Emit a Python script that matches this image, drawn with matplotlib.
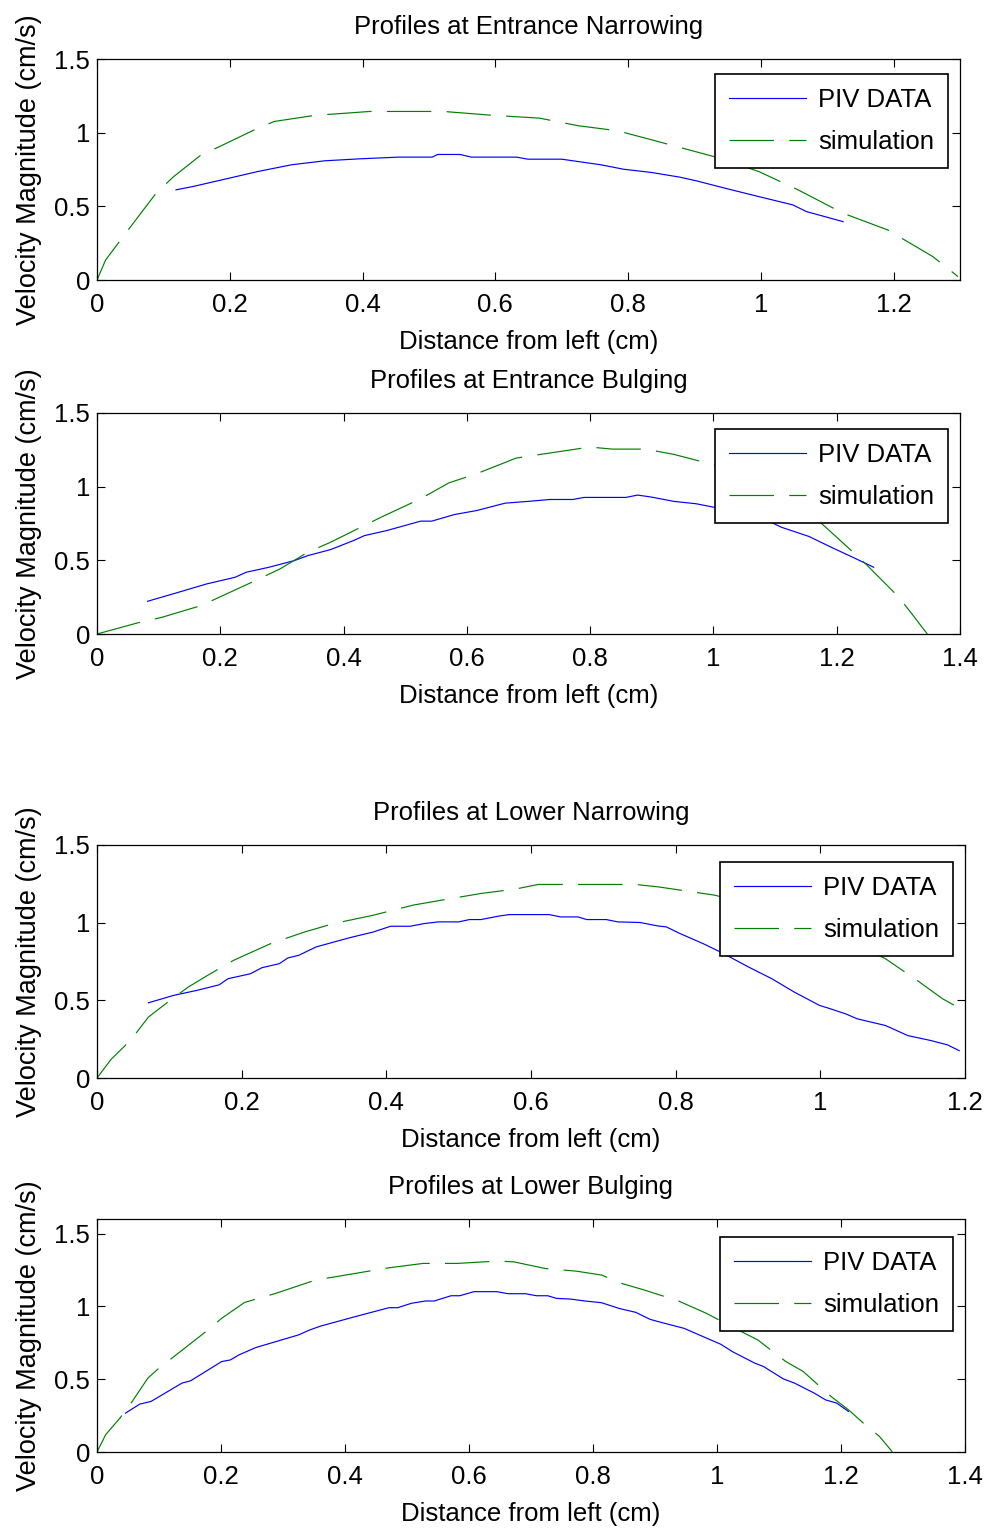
# velocity profiles: PIV vs simulation
import matplotlib
matplotlib.use("Agg")
import matplotlib.pyplot as plt

plt.rcParams['font.family'] = ['Liberation Sans', 'DejaVu Sans']
plt.rcParams['lines.scale_dashes'] = False

# --- data ---
# Entrance Narrowing
en_piv_x = [0.119, 0.144, 0.199, 0.242, 0.293, 0.343, 0.394, 0.454, 0.505, 0.513, 0.547,
            0.564, 0.632, 0.649, 0.700, 0.725, 0.759, 0.793, 0.835, 0.878, 0.903, 0.946,
            0.997, 1.048, 1.069, 1.124]
en_piv_y = [0.612, 0.634, 0.691, 0.736, 0.782, 0.809, 0.822, 0.834, 0.834, 0.852, 0.852,
            0.834, 0.834, 0.820, 0.820, 0.804, 0.782, 0.752, 0.730, 0.698, 0.673, 0.623,
            0.566, 0.510, 0.464, 0.396]
en_sim_x = [0.0, 0.013, 0.047, 0.089, 0.115, 0.157, 0.182, 0.242, 0.267, 0.327, 0.411,
            0.522, 0.598, 0.666, 0.725, 0.784, 0.835, 0.929, 0.997, 1.056, 1.124, 1.191,
            1.259, 1.297]
en_sim_y = [0.0, 0.136, 0.34, 0.589, 0.70, 0.85, 0.90, 1.03, 1.076, 1.117, 1.144,
            1.144, 1.117, 1.099, 1.047, 1.013, 0.952, 0.838, 0.736, 0.612, 0.453, 0.34,
            0.159, 0.023]

# Entrance Bulging
eb_piv_x = [0.082, 0.132, 0.178, 0.224, 0.242, 0.279, 0.320, 0.342, 0.379, 0.416, 0.434,
            0.470, 0.525, 0.543, 0.580, 0.616, 0.662, 0.699, 0.735, 0.772, 0.790, 0.858,
            0.877, 0.900, 0.936, 0.972, 1.000, 1.040, 1.082, 1.110, 1.155, 1.191, 1.228,
            1.260]
eb_piv_y = [0.222, 0.283, 0.340, 0.385, 0.419, 0.453, 0.498, 0.532, 0.573, 0.634, 0.668,
            0.702, 0.766, 0.766, 0.811, 0.838, 0.888, 0.900, 0.913, 0.913, 0.927, 0.927,
            0.943, 0.929, 0.900, 0.884, 0.861, 0.830, 0.782, 0.725, 0.662, 0.589, 0.517,
            0.453]
eb_sim_x = [0.0, 0.069, 0.105, 0.169, 0.251, 0.297, 0.342, 0.379, 0.461, 0.525, 0.571,
            0.616, 0.680, 0.708, 0.763, 0.799, 0.836, 0.890, 0.936, 1.000, 1.050, 1.100,
            1.164, 1.200, 1.247, 1.301, 1.320, 1.347]
eb_sim_y = [0.0, 0.079, 0.113, 0.193, 0.351, 0.442, 0.555, 0.623, 0.793, 0.918, 1.026,
            1.088, 1.194, 1.212, 1.246, 1.269, 1.255, 1.255, 1.219, 1.149, 1.070, 0.960,
            0.793, 0.657, 0.476, 0.249, 0.147, 0.0]

# Lower Narrowing
ln_piv_x = [0.071, 0.106, 0.138, 0.169, 0.181, 0.212, 0.228, 0.252, 0.264, 0.279, 0.303,
            0.350, 0.382, 0.406, 0.433, 0.452, 0.472, 0.500, 0.515, 0.531, 0.555, 0.570,
            0.625, 0.641, 0.665, 0.677, 0.704, 0.720, 0.751, 0.775, 0.787, 0.806, 0.838,
            0.862, 0.901, 0.933, 0.964, 0.999, 1.011, 1.035, 1.051, 1.090, 1.121, 1.153,
            1.176, 1.192]
ln_piv_y = [0.484, 0.532, 0.564, 0.600, 0.639, 0.671, 0.710, 0.736, 0.773, 0.790, 0.844,
            0.904, 0.940, 0.977, 0.977, 0.994, 1.005, 1.005, 1.020, 1.020, 1.042, 1.052,
            1.052, 1.037, 1.037, 1.020, 1.020, 1.005, 1.001, 0.979, 0.973, 0.930, 0.865,
            0.811, 0.714, 0.639, 0.553, 0.467, 0.450, 0.413, 0.381, 0.338, 0.273, 0.241,
            0.213, 0.176]
ln_sim_x = [0.0, 0.020, 0.039, 0.055, 0.071, 0.098, 0.126, 0.153, 0.189, 0.240, 0.287,
            0.327, 0.382, 0.437, 0.484, 0.531, 0.578, 0.610, 0.744, 0.775, 0.822, 0.854,
            0.920, 0.980, 1.040, 1.090, 1.137, 1.169, 1.200]
ln_sim_y = [0.0, 0.123, 0.209, 0.295, 0.392, 0.489, 0.585, 0.661, 0.758, 0.865, 0.940,
            0.994, 1.048, 1.113, 1.151, 1.188, 1.216, 1.246, 1.246, 1.231, 1.199, 1.177,
            1.100, 0.990, 0.880, 0.768, 0.618, 0.510, 0.430]

# Lower Bulging
lb_piv_x = [0.046, 0.069, 0.087, 0.137, 0.151, 0.201, 0.215, 0.229, 0.256, 0.325, 0.343,
            0.361, 0.416, 0.471, 0.485, 0.507, 0.530, 0.544, 0.571, 0.585, 0.608, 0.645,
            0.663, 0.691, 0.709, 0.727, 0.741, 0.764, 0.787, 0.814, 0.842, 0.869, 0.892,
            0.910, 0.947, 0.974, 1.006, 1.025, 1.061, 1.075, 1.107, 1.125, 1.157, 1.175,
            1.193, 1.212]
lb_piv_y = [0.267, 0.329, 0.347, 0.473, 0.489, 0.621, 0.632, 0.667, 0.717, 0.804, 0.838,
            0.865, 0.929, 0.991, 0.991, 1.021, 1.037, 1.037, 1.073, 1.073, 1.101, 1.101,
            1.087, 1.087, 1.073, 1.073, 1.055, 1.050, 1.037, 1.025, 0.986, 0.959, 0.911,
            0.890, 0.849, 0.799, 0.740, 0.689, 0.610, 0.587, 0.502, 0.473, 0.404, 0.358,
            0.336, 0.279]
lb_sim_x = [0.0, 0.014, 0.037, 0.055, 0.082, 0.101, 0.124, 0.179, 0.201, 0.238, 0.288,
            0.352, 0.416, 0.471, 0.526, 0.581, 0.645, 0.672, 0.723, 0.773, 0.814, 0.846,
            0.883, 0.938, 0.983, 1.029, 1.066, 1.111, 1.139, 1.184, 1.212, 1.239, 1.262,
            1.283]
lb_sim_y = [0.0, 0.119, 0.233, 0.336, 0.507, 0.580, 0.655, 0.838, 0.918, 1.027, 1.089,
            1.180, 1.226, 1.265, 1.295, 1.295, 1.311, 1.306, 1.260, 1.242, 1.215, 1.158,
            1.112, 1.037, 0.952, 0.849, 0.769, 0.621, 0.553, 0.381, 0.290, 0.187, 0.107,
            0.0]

titles = ["Profiles at Entrance Narrowing", "Profiles at Entrance Bulging",
          "Profiles at Lower Narrowing", "Profiles at Lower Bulging"]
labels = ["PIV DATA", "simulation"]

W, H = 988, 1534
fig = plt.figure(figsize=(W / 100, H / 100), dpi=100)

# axes boxes in pixels: left, right, top, bottom
boxes = [(97, 960, 59, 280), (97, 960, 413, 634), (97, 965, 845, 1078), (97, 965, 1219, 1452)]
xlims = [1.3, 1.4, 1.2, 1.4]
ylims = [1.5, 1.5, 1.5, 1.6]
xticks = [[0, 0.2, 0.4, 0.6, 0.8, 1, 1.2], [0, 0.2, 0.4, 0.6, 0.8, 1, 1.2, 1.4],
          [0, 0.2, 0.4, 0.6, 0.8, 1, 1.2], [0, 0.2, 0.4, 0.6, 0.8, 1, 1.2, 1.4]]
legend_corner = [(948, 74), (948, 429), (953, 862), (953, 1237)]

data = [(en_piv_x, en_piv_y, en_sim_x, en_sim_y),
        (eb_piv_x, eb_piv_y, eb_sim_x, eb_sim_y),
        (ln_piv_x, ln_piv_y, ln_sim_x, ln_sim_y),
        (lb_piv_x, lb_piv_y, lb_sim_x, lb_sim_y)]

fs = 18.5
for i in range(4):
    l, r, t, b = boxes[i]
    ax = fig.add_axes([l / W, 1 - b / H, (r - l) / W, (b - t) / H])
    px, py, sx, sy = data[i]
    ax.plot(px, py, color='#0000ff', lw=0.85, label=labels[0])
    ax.plot(sx, sy, color='#008000', lw=0.85, linestyle=(0, (32, 11)), label=labels[1])
    ax.set_xlim(0, xlims[i])
    ax.set_ylim(0, ylims[i])
    ax.set_xticks(xticks[i])
    ax.set_xticklabels([("%g" % v) for v in xticks[i]])
    ax.set_yticks([0, 0.5, 1, 1.5])
    ax.set_yticklabels(["0", "0.5", "1", "1.5"])
    ax.tick_params(direction='in', length=6, width=0.8, top=True, right=True,
                   labelsize=fs, pad=9)
    ax.tick_params(axis='y', pad=5)
    for sp in ax.spines.values():
        sp.set_linewidth(0.9)
    ax.set_title(titles[i], fontsize=fs, pad=18)
    ax.set_xlabel("Distance from left (cm)", fontsize=fs, labelpad=10)
    ax.set_ylabel("Velocity Magnitude (cm/s)", fontsize=19.5, labelpad=9)
    lx, ly = legend_corner[i]
    leg = ax.legend(loc='upper right', bbox_to_anchor=(lx / W, 1 - ly / H),
                    bbox_transform=fig.transFigure, fontsize=fs, fancybox=False,
                    framealpha=1, edgecolor='black', handlelength=3.0,
                    handletextpad=0.45, borderpad=0.55, labelspacing=0.68,
                    borderaxespad=0)
    leg.get_frame().set_linewidth(1.2)

fig.savefig("out.png", dpi=100)
